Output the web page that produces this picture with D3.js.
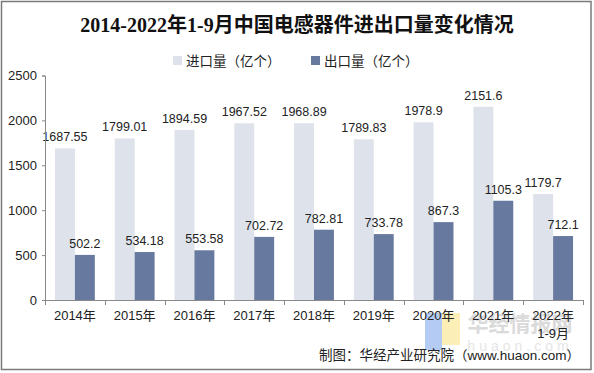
<!DOCTYPE html>
<html>
<head>
<meta charset="utf-8">
<script src="https://cdn.jsdelivr.net/npm/d3@7/dist/d3.min.js"></script>
<style>
html,body{margin:0;padding:0;background:#fff;}
svg{display:block;}
</style>
</head>
<body>
<svg id="chart" width="594" height="373"></svg>
<script>
const categories = ["2014年","2015年","2016年","2017年","2018年","2019年","2020年","2021年","2022年\n1-9月"];
const seriesNames = ["进口量（亿个）","出口量（亿个）"];
const importValues = [1687.55,1799.01,1894.59,1967.52,1968.89,1789.83,1978.9,2151.6,1179.7];
const exportValues = [502.2,534.18,553.58,702.72,782.81,733.78,867.3,1105.3,712.1];
const importLabels = ["1687.55","1799.01","1894.59","1967.52","1968.89","1789.83","1978.9","2151.6","1179.7"];
const exportLabels = ["502.2","534.18","553.58","702.72","782.81","733.78","867.3","1105.3","712.1"];
const yTicks = [0,500,1000,1500,2000,2500];
const colors = ["#dde2eb","#67799f"];
const titleText = "2014-2022年1-9月中国电感器件进出口量变化情况";
const sourceText = "制图：华经产业研究院（www.huaon.com）";

const svg = d3.select("#chart");
const FONT = "'Liberation Sans', Arial, 'Noto Sans CJK SC', sans-serif";

// outer border
svg.append("rect").attr("x",1.5).attr("y",1.5).attr("width",589.5).attr("height",368)
  .attr("fill","#fff").attr("stroke","#7a7a7a").attr("stroke-width",1.5);

// watermark
const wm = svg.append("g").attr("opacity",0.85);
wm.append("rect").attr("x",425).attr("y",313).attr("width",17).attr("height",37).attr("fill","#a8c4f2");
wm.append("rect").attr("x",442).attr("y",313).attr("width",18).attr("height",32).attr("fill","#fbecaa");
wm.append("text").attr("x",520).attr("y",331).attr("text-anchor","middle")
  .attr("font-family","'Noto Sans CJK SC', sans-serif").attr("font-weight","bold")
  .attr("font-size",21).attr("fill","#d4d4d4").text("华经情报网");
wm.append("text").attr("x",520).attr("y",351).attr("text-anchor","middle")
  .attr("font-family",FONT).attr("font-size",14).attr("letter-spacing",4)
  .attr("fill","#e2e2e2").text("huaon.com");

// title
svg.append("text").attr("x",297).attr("y",32).attr("text-anchor","middle")
  .attr("font-family","'Liberation Serif', 'Noto Sans CJK SC', serif")
  .attr("font-weight","bold").attr("font-size",20).attr("fill","#111")
  .text(titleText);

// legend
const legendX = [173, 311];
seriesNames.forEach((s,i)=>{
  svg.append("rect").attr("x",legendX[i]).attr("y",56).attr("width",9).attr("height",9).attr("fill",colors[i]);
  svg.append("text").attr("x",legendX[i]+13).attr("y",65.5)
    .attr("font-family","'Noto Sans CJK SC', sans-serif").attr("font-size",13.5).attr("fill","#222").text(s);
});

// scales
const x0 = d3.scaleBand().domain(categories).range([45,583]).paddingInner(0).paddingOuter(0);
const x1 = d3.scaleBand().domain([0,1]).range([0,x0.bandwidth()]).paddingInner(0).paddingOuter(0.5);
const y = d3.scaleLinear().domain([0,2500]).range([300,75.5]);

const data = categories.map((c,i)=>({c, vals:[importValues[i],exportValues[i]], labels:[importLabels[i],exportLabels[i]]}));

const g = svg.append("g");
const groups = g.selectAll("g.cat").data(data).join("g").attr("transform",d=>`translate(${x0(d.c)},0)`);
groups.selectAll("rect").data(d=>d.vals.map((v,k)=>({v,k}))).join("rect")
  .attr("x",d=>x1(d.k)).attr("width",x1.bandwidth())
  .attr("y",d=>y(d.v)).attr("height",d=>y(0)-y(d.v))
  .attr("fill",d=>colors[d.k]);
groups.selectAll("text.lbl").data(d=>d.vals.map((v,k)=>({v,k,l:d.labels[k]}))).join("text")
  .attr("class","lbl")
  .attr("x",d=>x1(d.k)+x1.bandwidth()/2).attr("y",d=>y(d.v)-7)
  .attr("text-anchor","middle").attr("font-family",FONT).attr("font-size",12.5).attr("fill","#222")
  .text(d=>d.l);

// y axis
const yAxis = d3.axisLeft(y).tickValues(yTicks).tickFormat(d3.format("d")).tickSize(3).tickPadding(5);
const ya = svg.append("g").attr("transform","translate(45,0)").call(yAxis);
ya.select(".domain").attr("stroke","#888");
ya.selectAll(".tick line").attr("stroke","#888");
ya.selectAll(".tick text").attr("font-family",FONT).attr("font-size",13).attr("fill","#222");

// x axis
const xa = svg.append("g").attr("transform","translate(0,300)");
xa.append("line").attr("x1",45).attr("x2",583).attr("y1",0.5).attr("y2",0.5).attr("stroke","#888");
const tickXs = categories.map(c=>x0(c)).concat([x0(categories[categories.length-1])+x0.bandwidth()]);
xa.selectAll("line.t").data(tickXs).join("line").attr("class","t")
  .attr("x1",d=>Math.round(d)+0.5).attr("x2",d=>Math.round(d)+0.5).attr("y1",0).attr("y2",5).attr("stroke","#888");
xa.selectAll("text.xl").data(categories).join("text").attr("class","xl")
  .attr("text-anchor","middle").attr("font-family",FONT).attr("font-size",13).attr("fill","#222")
  .each(function(c){
    const t = d3.select(this);
    c.split("\n").forEach((line,i)=>{
      t.append("tspan").attr("x",x0(c)+x0.bandwidth()/2).attr("y",20+i*18).text(line);
    });
  });

// source
svg.append("text").attr("x",580).attr("y",360).attr("text-anchor","end")
  .attr("font-family",FONT).attr("font-size",13.5).attr("fill","#222").text(sourceText);
</script>
</body>
</html>
